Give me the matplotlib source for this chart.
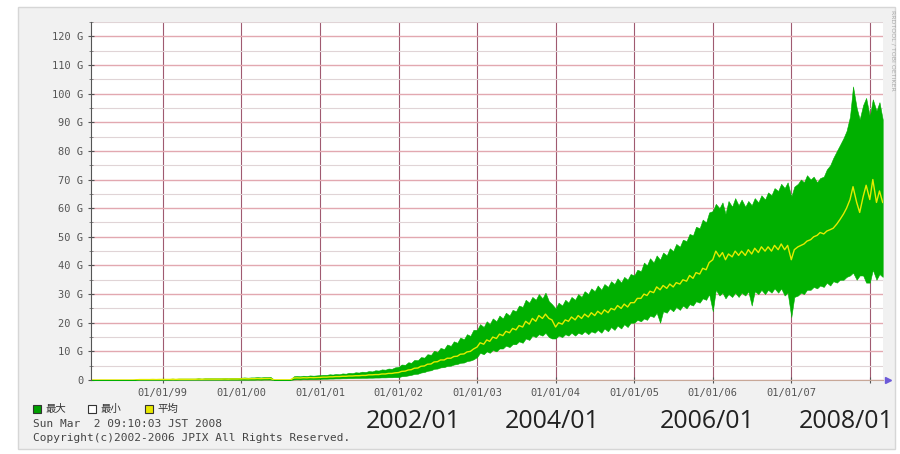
import datetime as dt
import matplotlib
matplotlib.use("Agg")
import matplotlib.pyplot as plt
from matplotlib.patches import Rectangle
from matplotlib.ticker import MultipleLocator
import matplotlib.dates as mdates

# JPIX traffic in Gbps, one sample on the 1st and the 15th of each month
# 1998 starts at Feb 1, 2008 ends at Mar 1
max_1998 = [0, 0, 0, 0, 0, 0, 0, 0, 0, 0, 0, 0, 0, 0, 0.2, 0.3, 0.3, 0.3, 0.3, 0.4, 0.3, 0.4]
avg_1998 = [0, 0, 0, 0, 0, 0, 0, 0, 0, 0, 0, 0, 0, 0, 0.1, 0.15, 0.15, 0.15, 0.15, 0.2, 0.15, 0.2]
min_1998 = [0, 0, 0, 0, 0, 0, 0, 0, 0, 0, 0, 0, 0, 0, 0.05, 0.05, 0.05, 0.05, 0.05, 0.05, 0.05, 0.05]

max_1999 = [0.4, 0.4, 0.4, 0.5, 0.4, 0.5, 0.5, 0.5, 0.5, 0.5, 0.5, 0.6, 0.5, 0.6, 0.6, 0.6, 0.6, 0.6, 0.6, 0.7, 0.6, 0.7, 0.7, 0.7]
avg_1999 = [0.2, 0.2, 0.2, 0.25, 0.2, 0.25, 0.25, 0.25, 0.25, 0.25, 0.25, 0.3, 0.25, 0.3, 0.3, 0.3, 0.3, 0.3, 0.3, 0.35, 0.3, 0.35, 0.35, 0.35]
min_1999 = [0.05, 0.05, 0.05, 0.1, 0.05, 0.1, 0.1, 0.1, 0.1, 0.1, 0.1, 0.1, 0.1, 0.1, 0.1, 0.1, 0.1, 0.1, 0.1, 0.1, 0.1, 0.1, 0.1, 0.1]

max_2000 = [0.8, 0.9, 0.8, 0.9, 0.9, 1.0, 0.9, 1.0, 1.0, 1.1, 0.1, 0.1, 0.1, 0.1, 0.1, 0.1, 1.3, 1.4, 1.3, 1.5, 1.4, 1.6, 1.5, 1.6]
avg_2000 = [0.4, 0.45, 0.4, 0.45, 0.45, 0.5, 0.45, 0.5, 0.5, 0.55, 0.05, 0.05, 0.05, 0.05, 0.05, 0.05, 0.7, 0.75, 0.7, 0.8, 0.75, 0.85, 0.8, 0.85]
min_2000 = [0.1, 0.1, 0.1, 0.1, 0.1, 0.15, 0.1, 0.15, 0.15, 0.15, 0, 0, 0, 0, 0, 0, 0.2, 0.25, 0.2, 0.3, 0.25, 0.3, 0.3, 0.3]

max_2001 = [1.7, 1.8, 1.8, 2.0, 1.9, 2.1, 2.0, 2.3, 2.2, 2.5, 2.4, 2.7, 2.6, 2.9, 2.8, 3.1, 3.0, 3.4, 3.3, 3.7, 3.6, 4.0, 3.9, 4.4]
avg_2001 = [0.9, 1.0, 1.0, 1.1, 1.1, 1.2, 1.2, 1.3, 1.3, 1.4, 1.4, 1.5, 1.5, 1.6, 1.6, 1.8, 1.8, 1.9, 1.9, 2.1, 2.1, 2.3, 2.3, 2.5]
min_2001 = [0.4, 0.45, 0.45, 0.5, 0.5, 0.55, 0.55, 0.6, 0.6, 0.65, 0.65, 0.7, 0.7, 0.75, 0.75, 0.8, 0.8, 0.85, 0.85, 0.9, 0.9, 0.95, 0.95, 1.0]

max_2002 = [4.6, 5.4, 5.3, 6.2, 6.0, 7.0, 6.9, 8.0, 7.8, 9.0, 8.8, 10.2, 9.8, 11.2, 10.8, 12.4, 11.9, 13.5, 13.0, 14.8, 14.2, 16.0, 15.4, 17.5]
avg_2002 = [2.6, 3.0, 3.1, 3.5, 3.6, 4.1, 4.2, 4.8, 4.9, 5.5, 5.6, 6.3, 6.4, 7.0, 7.0, 7.6, 7.6, 8.2, 8.3, 9.0, 9.1, 9.8, 10.0, 10.8]
min_2002 = [1.0, 1.3, 1.4, 1.6, 1.8, 2.1, 2.2, 2.6, 2.8, 3.2, 3.4, 3.9, 4.0, 4.4, 4.5, 4.9, 5.0, 5.4, 5.6, 6.0, 6.1, 6.6, 6.8, 7.2]

max_2003 = [17.5, 19.5, 18.5, 20.5, 19.5, 21.5, 20.5, 22.5, 21.5, 23.5, 22.5, 24.5, 24.0, 26.0, 25.5, 28.0, 27.0, 29.0, 28.0, 30.0, 28.5, 30.5, 27.5, 26.5]
avg_2003 = [11.5, 13.0, 12.5, 14.0, 13.5, 15.0, 14.5, 16.0, 15.5, 17.0, 16.5, 18.0, 17.5, 19.0, 18.5, 20.5, 19.5, 21.5, 20.5, 22.5, 21.5, 23.0, 21.5, 21.0]
min_2003 = [8.0, 9.5, 9.0, 10.0, 9.5, 10.5, 10.0, 11.0, 11.0, 12.0, 11.5, 12.5, 12.5, 13.5, 13.0, 14.5, 14.0, 15.5, 15.0, 16.0, 15.5, 16.5, 15.0, 14.5]

max_2004 = [25.0, 27.0, 26.0, 28.0, 27.0, 29.0, 28.0, 30.0, 29.0, 31.0, 30.0, 32.0, 31.0, 33.0, 31.5, 33.5, 32.5, 34.5, 33.5, 35.5, 34.0, 36.0, 35.0, 37.0]
avg_2004 = [18.5, 20.0, 19.5, 21.0, 20.5, 22.0, 21.0, 22.5, 21.5, 23.0, 22.0, 23.5, 22.5, 24.0, 23.0, 24.5, 23.5, 25.0, 24.5, 26.0, 25.0, 26.5, 25.5, 27.0]
min_2004 = [14.5, 15.5, 15.0, 16.0, 15.5, 16.5, 15.5, 16.5, 16.0, 17.0, 16.0, 17.0, 16.5, 17.5, 16.5, 18.0, 17.0, 18.5, 17.5, 19.0, 18.0, 19.5, 18.5, 20.0]

max_2005 = [36.5, 38.5, 38.0, 41.0, 40.0, 42.5, 41.0, 43.5, 42.0, 44.5, 43.5, 46.0, 45.0, 47.5, 46.5, 49.0, 48.5, 51.0, 50.5, 53.5, 53.0, 56.0, 55.0, 58.5]
avg_2005 = [27.0, 28.5, 28.5, 30.0, 29.5, 31.0, 30.5, 32.5, 31.5, 33.0, 32.0, 33.5, 32.5, 34.0, 33.5, 35.0, 34.5, 36.5, 35.5, 37.5, 37.0, 39.0, 38.5, 41.0]
min_2005 = [20.0, 21.0, 20.5, 21.5, 21.0, 22.5, 22.0, 23.5, 20.0, 24.0, 23.5, 25.0, 24.0, 25.5, 24.5, 26.0, 25.0, 26.5, 26.0, 27.5, 27.0, 28.5, 28.0, 30.0]

max_2006 = [59.0, 61.5, 60.0, 62.0, 58.0, 62.5, 60.5, 63.5, 61.0, 63.0, 60.5, 62.5, 61.0, 63.5, 62.0, 64.5, 63.0, 65.5, 64.5, 67.0, 66.0, 68.5, 67.0, 69.0]
avg_2006 = [42.0, 45.0, 43.0, 44.5, 42.0, 44.0, 43.0, 45.0, 43.5, 45.0, 43.5, 45.5, 44.0, 46.0, 44.5, 46.5, 45.0, 46.5, 45.0, 47.0, 45.5, 47.5, 45.5, 47.0]
min_2006 = [24.0, 31.5, 29.5, 30.5, 28.5, 30.0, 29.0, 30.5, 29.0, 30.5, 29.5, 31.0, 26.0, 31.0, 30.0, 31.5, 30.0, 31.5, 30.5, 32.0, 30.5, 32.0, 29.5, 30.5]

max_2007 = [64.0, 67.5, 68.5, 70.0, 69.0, 71.5, 70.0, 71.0, 69.0, 70.5, 71.0, 73.5, 75.0, 77.5, 80.0, 82.0, 84.5, 87.0, 92.0, 102.5, 95.0, 91.0, 96.0, 98.5]
avg_2007 = [42.0, 45.5, 46.5, 47.0, 47.5, 48.5, 49.0, 50.0, 50.5, 51.5, 51.0, 52.0, 52.5, 53.0, 54.5, 56.0, 58.0, 60.0, 63.0, 67.5, 62.0, 58.5, 64.0, 68.0]
min_2007 = [22.0, 29.0, 29.5, 30.5, 30.0, 31.5, 31.5, 32.5, 32.0, 33.0, 32.5, 34.0, 33.0, 34.5, 34.0, 35.0, 35.0, 36.0, 36.5, 37.5, 35.0, 36.5, 36.5, 34.0]

max_2008 = [92.0, 98.0, 94.0, 97.0, 91.0]
avg_2008 = [63.0, 70.0, 62.0, 66.0, 62.0]
min_2008 = [34.0, 38.5, 35.0, 37.0, 36.0]

y_labels = ["0", "10 G", "20 G", "30 G", "40 G", "50 G", "60 G", "70 G", "80 G", "90 G", "100 G", "110 G", "120 G"]
x_years = [1999, 2000, 2001, 2002, 2003, 2004, 2005, 2006, 2007, 2008]
x_labels = ["01/01/99", "01/01/00", "01/01/01", "01/01/02", "01/01/03", "01/01/04", "01/01/05", "01/01/06", "01/01/07", ""]
legend_names = ["最大", "最小", "平均"]
big_labels = ["2002/01", "2004/01", "2006/01", "2008/01"]


def half_months(year, first_month, n):
    out = []
    m = first_month
    while len(out) < n:
        out.append(dt.datetime(year, m, 1))
        if len(out) < n:
            out.append(dt.datetime(year, m, 15))
        m += 1
    return out


maxs, avgs, mins, dates = [], [], [], []
for year, mx, av, mn in [
    (1998, max_1998, avg_1998, min_1998), (1999, max_1999, avg_1999, min_1999),
    (2000, max_2000, avg_2000, min_2000), (2001, max_2001, avg_2001, min_2001),
    (2002, max_2002, avg_2002, min_2002), (2003, max_2003, avg_2003, min_2003),
    (2004, max_2004, avg_2004, min_2004), (2005, max_2005, avg_2005, min_2005),
    (2006, max_2006, avg_2006, min_2006), (2007, max_2007, avg_2007, min_2007),
    (2008, max_2008, avg_2008, min_2008)]:
    first = 2 if year == 1998 else 1
    dates += half_months(year, first, len(mx))
    maxs += mx
    avgs += av
    mins += mn

W, H = 900, 454


def fx(px):
    return px / W


def fy(py):
    return 1 - py / H


fig = plt.figure(figsize=(9, 4.54), dpi=100)
fig.patch.set_facecolor("white")
fig.patches.append(Rectangle((fx(18), fy(449)), fx(895) - fx(18), fy(7) - fy(449),
                             transform=fig.transFigure, facecolor="#f1f1f1",
                             edgecolor="#d6d6d6", lw=1, zorder=-5))

ax = fig.add_axes([fx(91), fy(380), fx(883) - fx(91), fy(22) - fy(380)])
ax.set_zorder(1)
ax.set_facecolor("white")

ax.fill_between(dates, mins, maxs, color="#00b000", lw=0.4, zorder=3)
ax.plot(dates, avgs, color="#e4ec00", lw=1.0, zorder=4)

ax.set_xlim(dt.datetime(1998, 2, 1), dt.datetime(2008, 3, 2, 9, 10))
ax.set_ylim(0, 125)

ax.yaxis.set_major_locator(MultipleLocator(10))
ax.yaxis.set_minor_locator(MultipleLocator(5))
ax.set_yticks(range(0, 121, 10))
ax.set_yticklabels(y_labels)
ax.set_xticks([mdates.date2num(dt.datetime(y, 1, 1)) for y in x_years])
ax.set_xticklabels(x_labels)

ax.grid(axis="y", which="major", color="#e2a8b0", lw=1.0, zorder=1)
ax.grid(axis="y", which="minor", color="#e0d4d6", lw=0.8, zorder=1)
ax.grid(axis="x", which="major", color="#a05a70", lw=0.8, zorder=1)
ax.set_axisbelow(True)

for s in ["top", "right"]:
    ax.spines[s].set_visible(False)
ax.spines["left"].set_color("#555555")
ax.spines["bottom"].set_color("#c8a898")
ax.spines["left"].set_zorder(5)

ax.tick_params(axis="y", which="major", direction="inout", length=5, width=0.8,
               color="#555555", pad=3, labelsize=7.5, labelcolor="#555555")
ax.tick_params(axis="y", which="minor", direction="inout", length=3, width=0.6,
               color="#777777")
ax.tick_params(axis="x", which="major", direction="inout", length=5, width=0.8,
               color="#555555", pad=3, labelsize=7.5, labelcolor="#555555")
for lab in ax.get_xticklabels() + ax.get_yticklabels():
    lab.set_family("DejaVu Sans Mono")

# arrow at the end of the time axis
ax.plot([1.006], [0], marker=">", ms=5, color="#6c5ad8", mec="#6c5ad8",
        transform=ax.get_yaxis_transform(), clip_on=False, zorder=6)

# legend squares
box_colors = ["#00a000", "#ffffff", "#e8e800"]
box_x = [33, 88, 145]
for name, c, bx in zip(legend_names, box_colors, box_x):
    fig.patches.append(Rectangle((fx(bx), fy(413)), 8 / W, 8 / H,
                                 transform=fig.transFigure, facecolor=c,
                                 edgecolor="#333333", lw=0.8, zorder=2))
    fig.text(fx(bx + 12), fy(409), name, fontsize=7.5, color="#333333",
             family=["Noto Sans CJK JP", "DejaVu Sans"], va="center", ha="left")

fig.text(fx(33), fy(424), "Sun Mar  2 09:10:03 JST 2008", fontsize=8,
         family="DejaVu Sans Mono", color="#444444", va="center", ha="left")
fig.text(fx(33), fy(438), "Copyright(c)2002-2006 JPIX All Rights Reserved.",
         fontsize=8, family="DejaVu Sans Mono", color="#444444",
         va="center", ha="left")

fig.text(fx(893), fy(10), "RRDTOOL / TOBI OETIKER", rotation=270, fontsize=4.5,
         color="#aaaaaa", va="top", ha="center")

# big hand-added year labels under the axis
for text, px in zip(big_labels, [413, 552, 707, 846]):
    fig.text(fx(px), fy(421), text, fontsize=18, family="Open Sans",
             color="#222222", va="center", ha="center")

fig.savefig("out.png", dpi=100, facecolor="white")
